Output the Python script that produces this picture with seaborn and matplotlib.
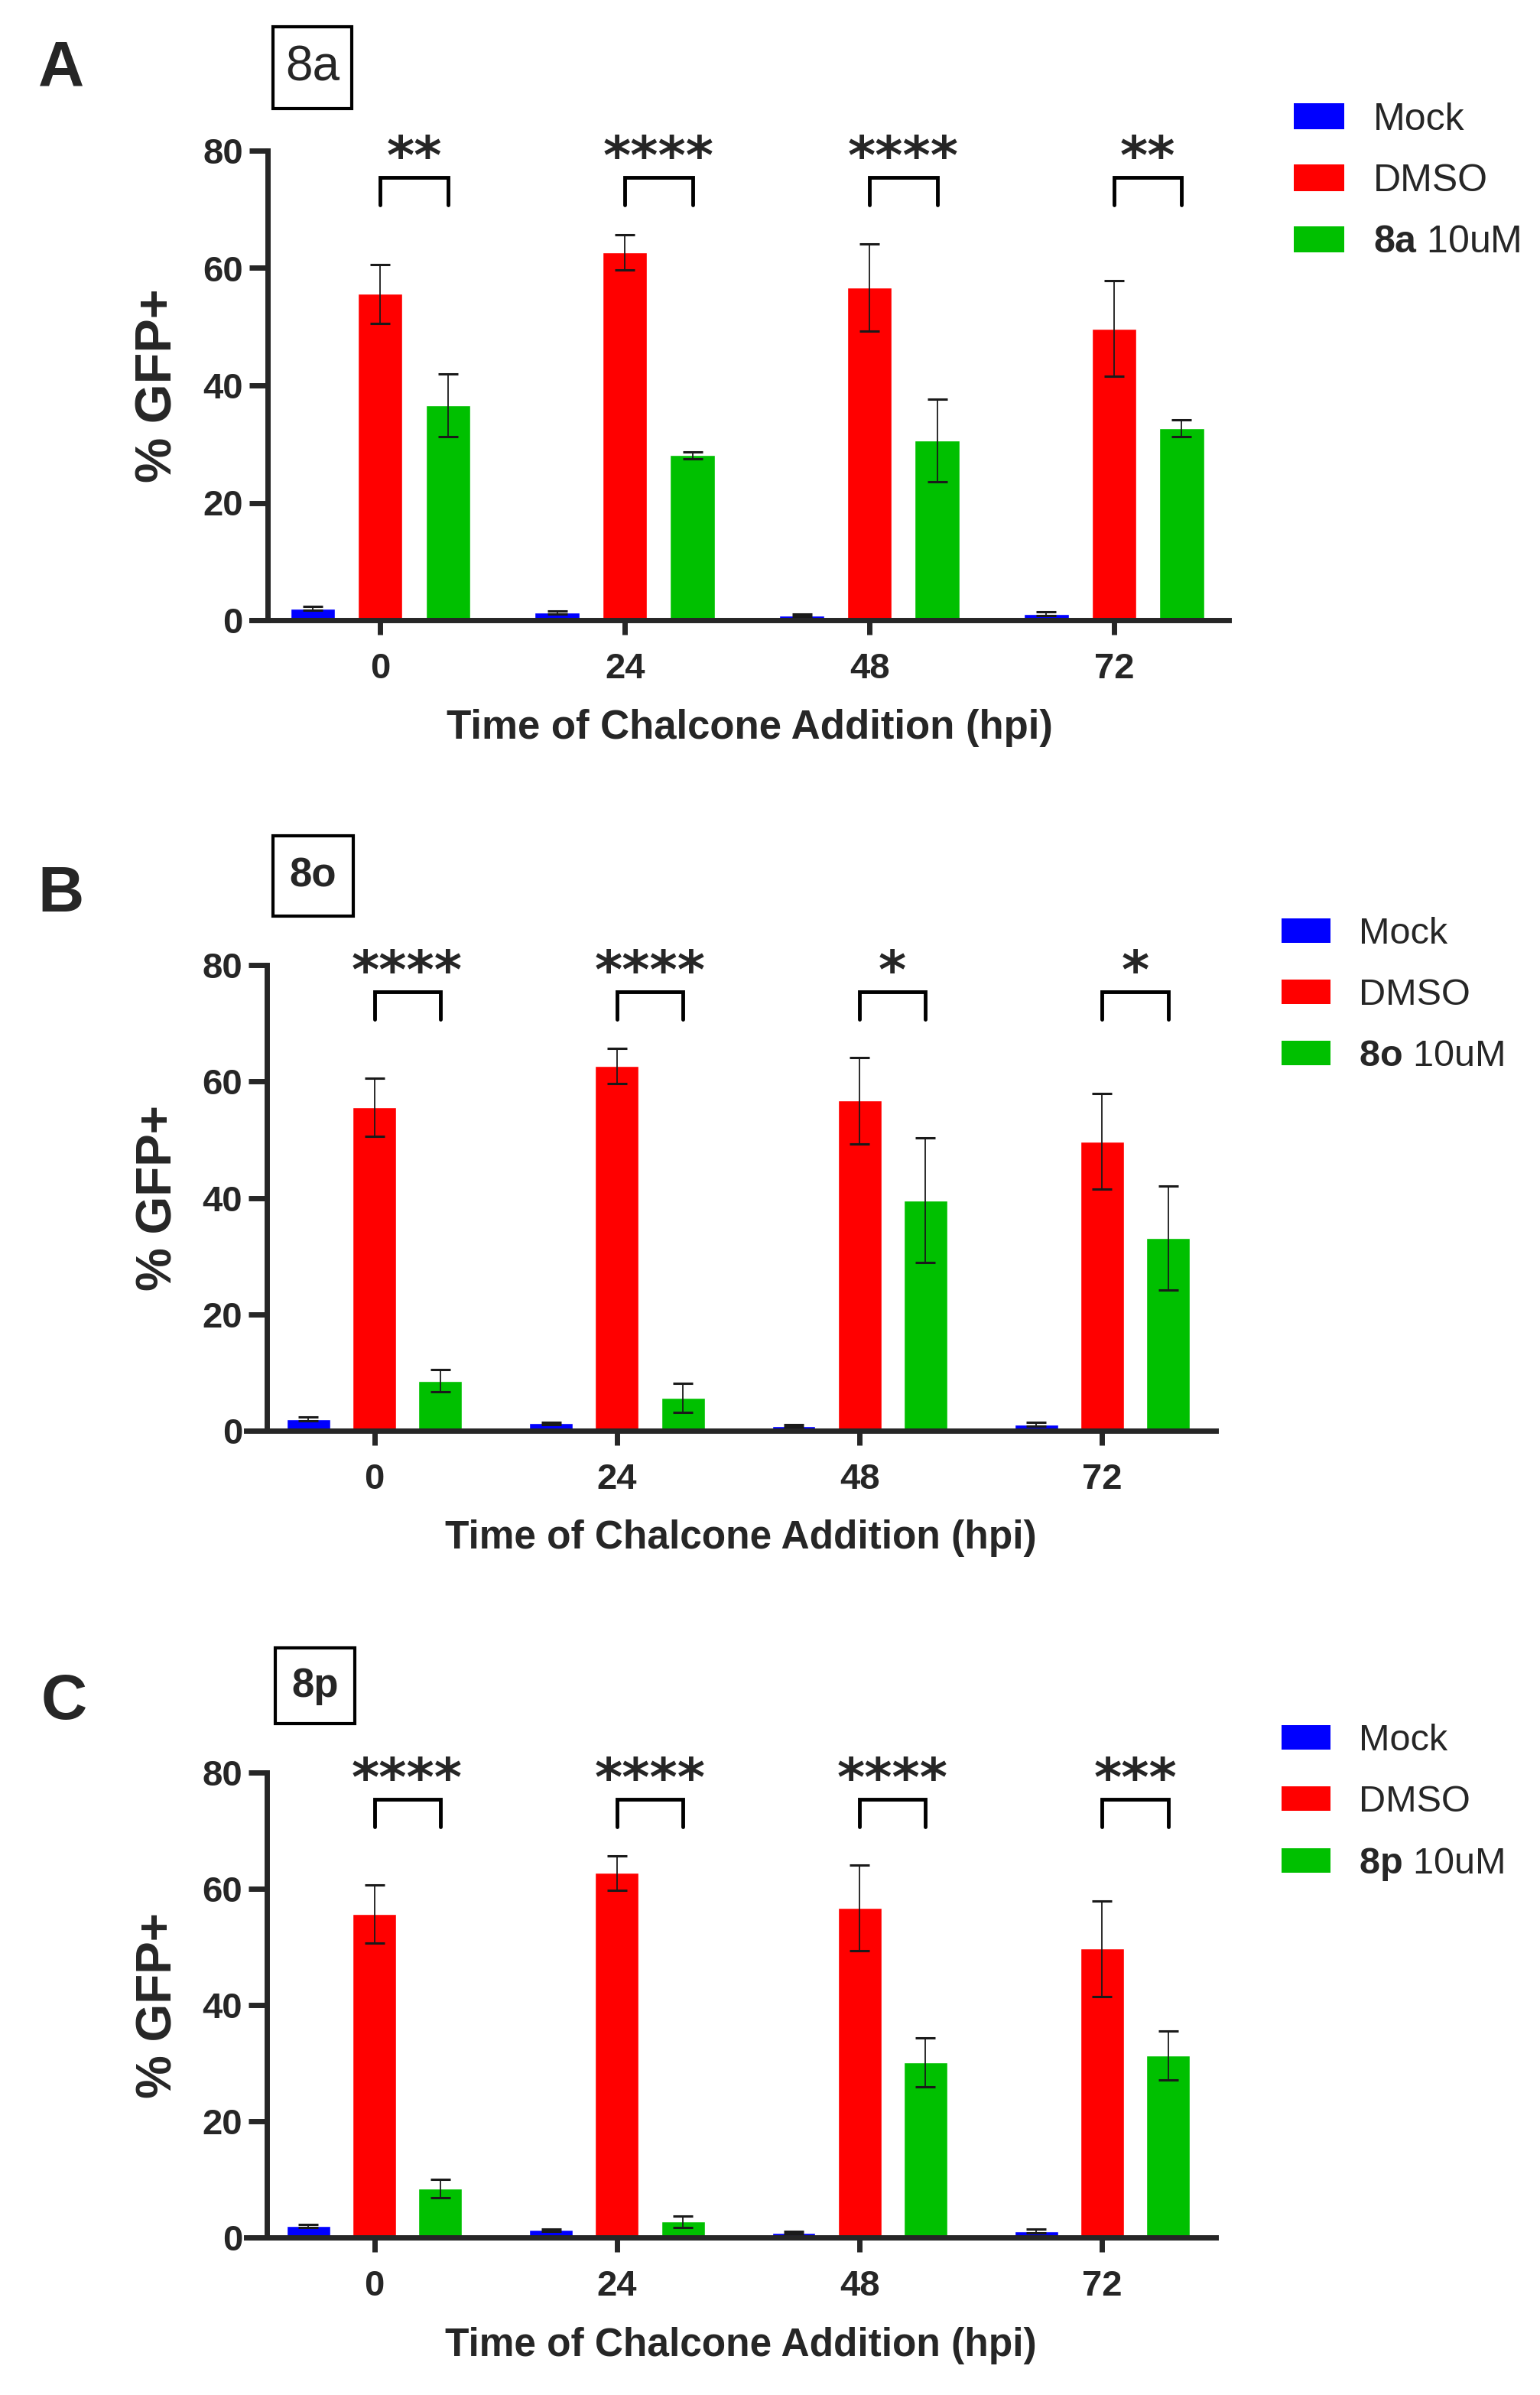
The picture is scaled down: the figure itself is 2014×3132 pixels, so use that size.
import pandas as pd
import seaborn as sns
import matplotlib.pyplot as plt
from matplotlib import font_manager
from matplotlib.patches import Patch, Rectangle

# values (% GFP+, mean and error)
times = ["0", "24", "48", "72"]

mock_mean = [2.0, 1.3, 0.8, 1.1]
mock_sd = [0.3, 0.2, 0.2, 0.3]
dmso_mean = [55.6, 62.7, 56.7, 49.7]
dmso_sd = [5.0, 3.0, 7.4, 8.2]

c8a_mean = [36.6, 28.1, 30.6, 32.7]
c8a_sd = [5.3, 0.6, 7.0, 1.4]
c8o_mean = [8.6, 5.7, 39.6, 33.1]
c8o_sd = [1.9, 2.5, 10.7, 8.9]
c8p_mean = [8.4, 2.7, 30.1, 31.3]
c8p_sd = [1.6, 1.0, 4.2, 4.2]

stars_8a = ["**", "****", "****", "**"]
stars_8o = ["****", "****", "*", "*"]
stars_8p = ["****", "****", "****", "***"]

compounds = ["8a", "8o", "8p"]
panel_letters = ["A", "B", "C"]
colors = ["#0000FF", "#FF0000", "#00C000"]

sns.set_style("ticks")
installed = {f.name for f in font_manager.fontManager.ttflist}
narrow = ["Liberation Sans Narrow", "Liberation Sans"] if "Liberation Sans Narrow" in installed else ["Liberation Sans"]
plt.rcParams["font.family"] = ["Liberation Sans", "DejaVu Sans"]
plt.rcParams["mathtext.fontset"] = "custom"
plt.rcParams["mathtext.bf"] = "Liberation Sans:bold"
plt.rcParams["mathtext.rm"] = "Liberation Sans"

W, H = 2015, 3132
fig = plt.figure(figsize=(W / 100, H / 100), dpi=100)

# layout per panel, in full-size pixels
layouts = [
    dict(left=329, right=1607, y80=197, y0=811, xlim=(-0.526, 3.469), spine=-0.461, width=0.83,
         fam=narrow, tick=34, lab=48, xlab=38, leg=36, letter=(80, 90), lsize=60,
         box=(357, 35, 460, 142), bsize=46, legx=1692, legy=237, hl=1.32, hh=0.68, ls=0.69, tp=0.76),
    dict(left=322, right=1590, y80=1262, y0=1871, xlim=(-0.528, 3.468), spine=-0.442, width=0.815,
         fam=["Liberation Sans"], tick=34, lab=46, xlab=37, leg=35, letter=(80, 1170), lsize=60,
         box=(357, 1093, 462, 1198), bsize=38, legx=1676, legy=1302, hl=1.31, hh=0.64, ls=0.72, tp=0.76),
    dict(left=322, right=1590, y80=2318, y0=2926, xlim=(-0.528, 3.468), spine=-0.442, width=0.815,
         fam=["Liberation Sans"], tick=34, lab=46, xlab=37, leg=35, letter=(84, 2226), lsize=60,
         box=(360, 2155, 464, 2254), bsize=38, legx=1676, legy=2358, hl=1.31, hh=0.64, ls=0.72, tp=0.76),
]
cmp_means = [c8a_mean, c8o_mean, c8p_mean]
cmp_sds = [c8a_sd, c8o_sd, c8p_sd]
cmp_stars = [stars_8a, stars_8o, stars_8p]

for i, lay in enumerate(layouts):
    cmp = compounds[i]
    label = f"$\\mathbf{{{cmp}}}$ 10uM"
    groups = ["Mock", "DMSO", label]
    df = pd.DataFrame({
        "time": times * 3,
        "group": [g for g in groups for _ in times],
        "value": mock_mean + dmso_mean + cmp_means[i],
    })
    sds = [mock_sd, dmso_sd, cmp_sds[i]]
    means = [mock_mean, dmso_mean, cmp_means[i]]

    ax = fig.add_axes([lay["left"] / W, 1 - lay["y0"] / H,
                       (lay["right"] - lay["left"]) / W, (lay["y0"] - lay["y80"]) / H])
    sns.barplot(data=df, x="time", y="value", hue="group", hue_order=groups,
                palette=dict(zip(groups, colors)), width=lay["width"], gap=0.34,
                errorbar=None, saturation=1, legend=False, ax=ax)

    centers = []
    for cont, m, s in zip(ax.containers, means, sds):
        xs = [b.get_x() + b.get_width() / 2 for b in cont]
        centers.append(xs)
        ax.errorbar(xs, m, yerr=s, fmt="none", ecolor="#1a1a1a", elinewidth=1.3,
                    capsize=9.5, capthick=2.2, zorder=3)

    # significance brackets DMSO vs compound
    fam = lay["fam"]
    for j, st in enumerate(cmp_stars[i]):
        x1, x2 = centers[1][j], centers[2][j]
        ax.plot([x1, x1, x2, x2], [70.7, 75.4, 75.4, 70.7], color="black", lw=3.5,
                solid_joinstyle="miter", clip_on=False)
        ax.text((x1 + x2) / 2, 78.6, st, ha="center", va="center", fontsize=50,
                fontweight="bold", family=["DejaVu Sans"], clip_on=False)

    ax.set_xlim(*lay["xlim"])
    ax.set_ylim(0, 80)
    ax.set_yticks([0, 20, 40, 60, 80])
    sns.despine(ax=ax)
    ax.spines["left"].set_position(("data", lay["spine"]))
    for sp in ["left", "bottom"]:
        ax.spines[sp].set_linewidth(5)
    ax.tick_params(axis="y", length=17, width=5, pad=6, labelsize=lay["tick"])
    ax.tick_params(axis="x", length=14, width=5, pad=16, labelsize=lay["tick"])
    for t in ax.get_xticklabels() + ax.get_yticklabels():
        t.set_fontweight("bold")
        t.set_family(fam)

    ax.set_xlabel("Time of Chalcone Addition (hpi)", fontsize=lay["xlab"], fontweight="bold",
                  family=fam, va="center")
    ax.xaxis.set_label_coords(0.51, -141 / (lay["y0"] - lay["y80"]))
    ax.set_ylabel("% GFP+", fontsize=lay["lab"], fontweight="bold", family=fam, va="center")
    ax.yaxis.set_label_coords((208 - lay["left"]) / (lay["right"] - lay["left"]), 0.5)

    handles = [Patch(facecolor=c, edgecolor="none") for c in colors]
    ax.legend(handles, groups, loc="center left",
              bbox_to_anchor=(lay["legx"] / W, 1 - lay["legy"] / H), bbox_transform=fig.transFigure,
              frameon=False, borderpad=0, borderaxespad=0, handlelength=lay["hl"],
              handleheight=lay["hh"], labelspacing=lay["ls"], handletextpad=lay["tp"],
              prop=dict(family=fam, size=lay["leg"]))

    # panel letter and compound box
    fig.text(lay["letter"][0] / W, 1 - lay["letter"][1] / H, panel_letters[i], ha="center",
             va="center", fontsize=lay["lsize"], fontweight="bold", family=fam)
    bx0, by0, bx1, by1 = lay["box"]
    fig.patches.append(Rectangle((bx0 / W, 1 - by1 / H), (bx1 - bx0) / W, (by1 - by0) / H,
                                 transform=fig.transFigure, fill=False, lw=3, edgecolor="black"))
    fig.text((bx0 + bx1) / 2 / W, 1 - (by0 + by1) / 2 / H, cmp, ha="center", va="center",
             fontsize=lay["bsize"], fontweight="bold" if i > 0 else "normal", family=fam)

fig.savefig("out.png", dpi=100)
